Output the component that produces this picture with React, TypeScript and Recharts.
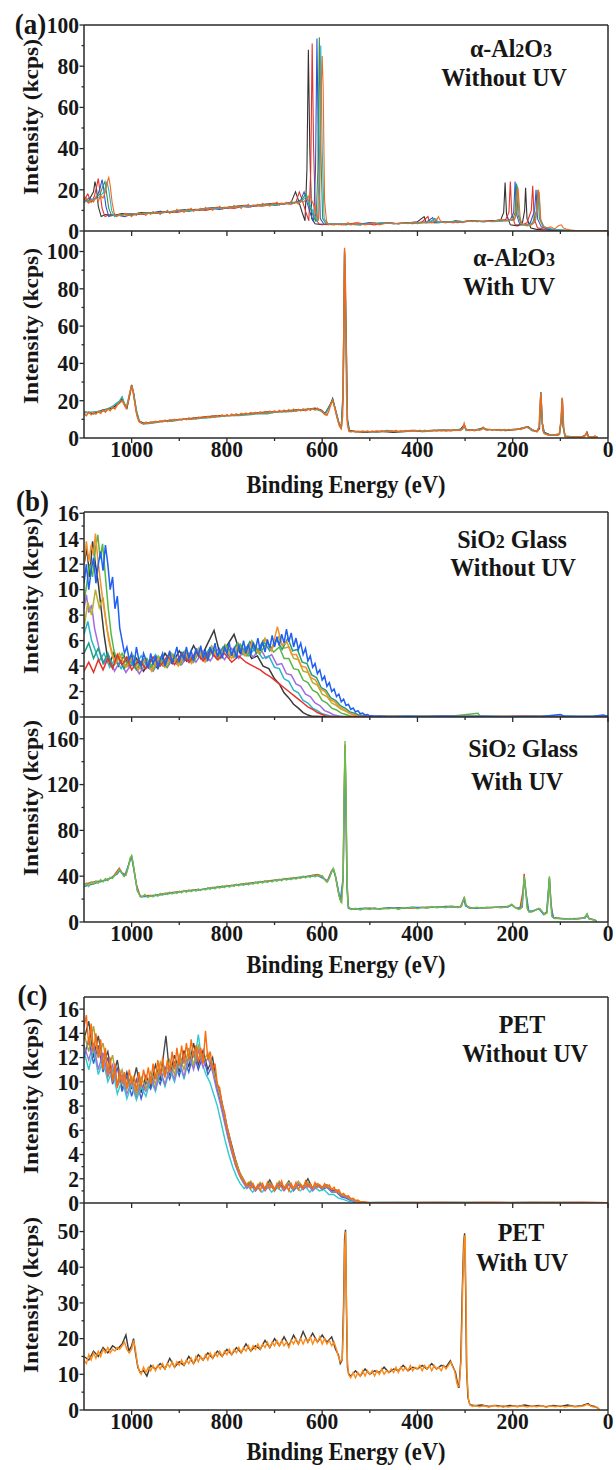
import React from "react";
import { LineChart, Line, XAxis, YAxis, ReferenceLine } from "recharts";

const FONT = "'Liberation Serif', 'Times New Roman', Times, serif";
const INK = "#161616";
const AXIS = "#2a2a2a";

// shared binding energy ticks (eV), axis runs 1100 -> 0
const energyTicks = [0, 100, 200, 300, 400, 500, 600, 700, 800, 900, 1000];
const ticksA = [0, 10, 20, 30, 40, 50, 60, 70, 80, 90, 100];
const ticksB1 = [0, 1, 2, 3, 4, 5, 6, 7, 8, 9, 10, 11, 12, 13, 14, 15, 16];
const ticksB2 = [0, 20, 40, 60, 80, 100, 120, 140, 160];
const ticksC1 = ticksB1;
const ticksC2 = [0, 5, 10, 15, 20, 25, 30, 35, 40, 45, 50];

// ---- (a) alpha-Al2O3 without UV : [eV, kcps, eV, kcps, ...]
const a1Black = [1100,16, 1092,14, 1085,17, 1080,19, 1077,24, 1074,21, 1070,12, 1064,7, 1055,8, 1040,7.5, 1020,8.5, 1000,8, 980,9, 960,8.5, 940,9.5, 920,9, 900,10, 880,10.5, 860,10, 840,11, 820,11.5, 800,11, 780,12, 760,12.5, 740,12, 720,13, 700,13.5, 680,13, 665,14, 656,19, 650,15, 642,9, 636,5, 632,30, 629,88, 626,40, 622,6, 615,3.5, 600,3, 580,3.5, 560,3, 540,3.5, 520,3, 500,4, 480,3.5, 460,4, 440,3.5, 420,4, 400,4.5, 386,7, 382,4, 360,4.5, 340,4, 320,5, 300,4.5, 280,5, 260,4.5, 240,5, 225,5.5, 219,9, 216,23.5, 213,8, 205,3, 190,2.5, 180,3.5, 175,10, 173,21, 170,6, 162,1.5, 150,0.8, 130,0.5, 110,0.3, 80,0.1, 40,0, 0,0];
const a1Red = [1100,15, 1092,18, 1085,14, 1078,17, 1073,22, 1070,25.5, 1067,20, 1062,11, 1056,7, 1045,8, 1025,7.5, 1005,8.5, 985,8, 965,9, 945,8.5, 925,9.5, 905,9, 885,10, 865,10.5, 845,10, 825,11, 805,11.5, 785,11, 765,12, 745,12.5, 725,12, 705,13, 685,13.5, 665,13, 655,14, 648,19, 642,15, 634,9, 628,5, 624,30, 621,91, 618,40, 614,6, 607,3.5, 590,3, 570,3.5, 550,3, 530,4, 510,3.5, 490,3, 470,4, 450,3.5, 430,4, 410,3.5, 390,4.5, 378,7, 374,4, 355,4, 335,4.5, 315,4, 295,5, 275,4.5, 255,5, 235,5, 215,5.5, 208,9, 205,24, 202,8, 195,3, 180,3, 170,4, 161,10, 158,22, 155,6, 148,1.5, 135,1, 115,0.5, 90,0.3, 60,0.1, 30,0, 0,0];
const a1Blue = [1100,14, 1090,16, 1080,15, 1072,17, 1066,21, 1062,25, 1059,21, 1054,12, 1048,7, 1035,8, 1015,7, 995,8.5, 975,8, 955,9, 935,9.5, 915,9, 895,10, 875,10, 855,10.5, 835,11, 815,10.5, 795,11.5, 775,12, 755,11.5, 735,12.5, 715,13, 695,12.5, 675,13.5, 655,14, 645,15, 638,19, 632,14, 624,8, 618,4.5, 614,30, 611,93.5, 608,40, 604,6, 597,3.5, 580,3, 560,3.5, 540,3, 520,3.5, 500,4, 480,3.5, 460,4, 440,3.5, 420,4, 400,4, 380,4.5, 368,6.5, 364,4, 345,4.5, 325,4, 305,4.5, 285,5, 265,4.5, 245,5, 225,5, 205,5.5, 198,9, 195,24, 192,8, 185,3, 170,3, 163,4, 154,10, 151,20, 148,6, 140,2, 128,1, 110,0.5, 85,0.3, 60,0.1, 30,0, 0,0];
const a1Green = [1100,15, 1088,14, 1076,16, 1066,18, 1060,22, 1056,24, 1053,19, 1048,11, 1042,7.5, 1020,8, 1000,7.5, 980,8.5, 960,9, 940,8.5, 920,9.5, 900,10, 880,9.5, 860,10.5, 840,11, 820,11, 800,11.5, 780,12, 760,12, 740,12.5, 720,13, 700,12.5, 680,13.5, 660,13.5, 645,14.5, 634,18, 628,13, 620,8, 613,4.5, 609,30, 606,94, 603,40, 599,6, 592,3.5, 575,3, 550,3.5, 525,3, 500,3.5, 475,4, 450,3.5, 425,4, 400,4, 375,4, 364,6, 360,4, 335,4.5, 310,4.5, 285,5, 260,4.5, 235,5, 210,5, 200,5.5, 195,9, 192,23, 189,8, 182,3, 165,3, 158,4, 150,10, 147,20, 144,6, 136,2, 120,1, 100,0.5, 70,0.2, 40,0, 0,0];
const a1Cyan = [1100,14, 1085,15, 1070,16, 1058,19, 1052,24, 1048,20, 1042,10, 1036,7, 1015,8, 990,8.5, 965,8.5, 940,9, 915,9.5, 890,10, 865,10, 840,11, 815,11, 790,11.5, 765,12, 740,12.5, 715,12.5, 690,13, 665,13.5, 645,14, 632,17, 626,13, 617,8, 610,4.5, 606,30, 603,90, 600,40, 596,6, 589,3.5, 560,3.5, 530,3, 500,3.5, 470,4, 440,3.5, 410,4, 380,4, 361,6, 357,4, 330,4.5, 300,4.5, 270,5, 240,4.5, 210,5, 196,5.5, 193,9, 190,22, 187,8, 180,3, 162,3, 155,4, 148,10, 145,19, 142,6, 134,2, 118,1, 95,0.4, 60,0.1, 30,0, 0,0];
const a1Orange = [1100,14, 1095,16, 1090,13.5, 1085,15, 1080,14, 1075,16.5, 1070,14.5, 1065,17, 1060,16, 1055,19, 1051,24, 1048,26, 1045,22, 1041,14, 1037,9, 1032,7, 1026,8, 1020,7, 1015,8.5, 1010,7.5, 1005,8, 1000,7, 995,8.5, 990,7.5, 985,9, 980,8, 975,8.5, 970,7.5, 965,9, 960,8, 955,9.5, 950,8.5, 945,9, 940,8, 935,9.5, 930,9, 925,10, 920,8.5, 915,9.5, 910,9, 905,10.5, 900,9.5, 895,10, 890,9, 885,10.5, 880,10, 875,11, 870,9.5, 865,10.5, 860,10, 855,11, 850,10, 845,11.5, 840,10.5, 835,11, 830,10, 825,11.5, 820,11, 815,12, 810,10.5, 805,11.5, 800,11, 795,12, 790,11, 785,12.5, 780,11.5, 775,12, 770,11, 765,12.5, 760,12, 755,13, 750,11.5, 745,12.5, 740,12, 735,13, 730,12, 725,13.5, 720,12.5, 715,13, 710,12, 705,13.5, 700,13, 695,14, 690,12.5, 685,13.5, 680,13, 675,14, 670,13, 665,14.5, 660,13.5, 655,14, 650,13, 645,14.5, 640,14, 635,15, 630,16, 626,18, 622,15, 617,12, 612,8, 608,5, 605,20, 602,70, 600,85, 598,70, 595,15, 591,5, 587,3, 580,3.5, 575,3, 570,3.5, 565,3, 560,3.5, 555,3, 550,3.5, 545,4, 540,3, 535,3.5, 530,3, 525,4, 520,3.5, 510,3, 500,3.5, 490,4, 480,3, 470,3.5, 460,4, 450,3.5, 440,3.5, 430,4, 420,3.5, 410,4, 400,3.5, 390,4, 380,4.5, 370,4, 360,5, 356,7, 352,5, 345,4, 335,4.5, 325,4, 315,4.5, 305,4, 295,5, 285,4.5, 275,5, 265,4.5, 255,5, 245,4.5, 235,5, 225,5.5, 215,5, 205,5.5, 198,5, 194,7, 191,18, 189,21, 187,15, 184,5, 178,3, 170,2.5, 160,3, 152,5, 148,14, 146,20, 144,17, 141,5, 136,2, 128,1.5, 120,2, 112,1, 104,2.5, 98,3, 94,1.5, 88,1, 80,0.5, 70,0.3, 55,0.2, 40,0.1, 20,0.1, 0,0];

// ---- (a) alpha-Al2O3 with UV
const a2Black = [1100,14, 1080,13, 1060,15, 1040,16, 1025,19, 1020,21, 1015,18, 1010,16, 1004,23, 1000,28.5, 996,24, 990,14, 984,9, 975,8, 955,8.5, 935,9, 915,9.5, 895,10, 875,10.5, 855,11, 835,11.5, 815,12, 795,12, 775,12.5, 755,13, 735,13.5, 715,14, 695,14, 675,14.5, 655,15, 635,15, 615,16, 602,15, 594,13, 582,18.5, 578,21, 573,16, 566,9, 560,5, 556,25, 553,100, 550,60, 547,10, 543,4, 530,3.5, 510,3, 490,3.5, 470,3.5, 450,3, 430,3.5, 410,4, 390,3.5, 370,4, 350,4, 330,4, 310,4.5, 302,7, 298,4.5, 280,4, 262,5.5, 255,4.5, 235,4.5, 215,4, 195,4.5, 175,5.5, 168,6, 160,4.5, 150,3.5, 144,5, 141,24.5, 138,8, 134,3, 120,1.5, 102,2, 98,10, 96,21, 94,6, 90,1, 75,0.5, 55,0.6, 47,1.5, 44,3, 41,0.8, 30,0.6, 22,0.4];
const a2Teal = [1100,13.5, 1080,14, 1060,14.5, 1040,17, 1025,20, 1020,22, 1016,19, 1011,16.5, 1004,24, 1000,28, 996,24, 990,15, 984,9, 975,7.5, 955,8, 935,9, 915,9, 895,10, 875,10, 855,10.5, 835,11, 815,11.5, 795,12, 775,12, 755,12.5, 735,13, 715,13, 695,14, 675,14, 655,14.5, 635,15.5, 615,15.5, 602,14.5, 594,12.5, 582,18, 578,20.5, 573,16, 566,9, 560,5, 556,22, 553,98, 550,55, 547,9, 543,3.5, 525,3.5, 505,3.5, 485,3, 465,4, 445,3.5, 425,3.5, 405,4, 385,3.5, 365,4, 345,4.5, 325,4, 305,5, 302,7, 298,4, 278,4.5, 262,5, 245,4.5, 225,4, 205,4.5, 185,5, 170,6, 160,4, 150,3.5, 144,6, 141,24.5, 138,8, 134,2.5, 118,1.5, 102,2, 98,10, 96,21.5, 94,6, 90,1, 70,0.5, 50,0.7, 45,2.5, 41,0.8, 30,0.6, 22,0.4];
const a2Orange = [1100,13, 1095,12, 1090,14, 1085,12.5, 1080,13.5, 1075,12.8, 1070,14.2, 1065,13.2, 1060,15, 1055,13.8, 1050,15.4, 1045,14.6, 1040,16.4, 1035,15.6, 1030,17.8, 1025,18.8, 1020,20, 1016,18, 1012,16, 1008,18.5, 1004,24, 1000,28, 997,25, 993,18, 989,12, 985,9, 980,8, 975,7.5, 970,8.5, 965,7.8, 960,8.6, 955,8.2, 950,9, 945,8.4, 940,9.2, 935,8.6, 930,9.6, 925,8.8, 920,9.8, 915,9.2, 910,10, 905,9.4, 900,10.2, 895,9.6, 890,10.4, 885,9.8, 880,10.8, 875,10, 870,11, 865,10.2, 860,11.2, 855,10.6, 850,11.4, 845,10.8, 840,11.6, 835,11, 830,12, 825,11.2, 820,12, 815,11.4, 810,12.4, 805,11.6, 800,12.6, 795,11.8, 790,12.8, 785,12, 780,13, 775,12.2, 770,13.2, 765,12.4, 760,13.4, 755,12.8, 750,13.6, 745,12.8, 740,13.8, 735,13, 730,14, 725,13.2, 720,14.2, 715,13.4, 710,14.4, 705,13.6, 700,14.6, 695,13.8, 690,14.8, 685,14, 680,15, 675,14.2, 670,15.2, 665,14.2, 660,15.4, 655,14.4, 650,15.4, 645,14.6, 640,15.6, 635,14.6, 630,15.8, 625,14.8, 620,15.8, 615,15, 610,16, 605,15, 600,14.2, 595,12.8, 590,12.2, 586,14.5, 582,18, 578,20, 574,16.5, 569,11, 564,6.5, 560,5, 557,12, 555,50, 553,102, 551,80, 549,25, 547,7, 544,3.8, 540,3.4, 535,3.8, 530,3.2, 525,3.6, 520,3.1, 515,3.7, 510,3.2, 505,3.8, 500,3.3, 495,3.7, 490,3.2, 485,3.8, 480,3.4, 475,3.9, 470,3.3, 465,3.8, 460,3.4, 455,3.9, 450,3.5, 445,4, 440,3.4, 435,3.9, 430,3.5, 425,4, 420,3.6, 415,4.1, 410,3.6, 405,4, 400,3.7, 395,4.1, 390,3.6, 385,4.2, 380,3.7, 375,4.1, 370,3.8, 365,4.2, 360,3.8, 355,4.3, 350,3.9, 345,4.2, 340,3.8, 335,4.3, 330,3.9, 325,4.4, 320,4, 315,4.3, 310,4, 305,4.8, 302,7.8, 299,5, 295,4.2, 290,4, 285,4.4, 280,4, 275,4.5, 270,4.1, 265,4.6, 262,5.8, 258,4.5, 253,4.2, 248,4.6, 243,4.1, 238,4.6, 233,4.1, 228,4.5, 223,4.1, 218,4.6, 213,4.2, 208,4.6, 203,4.2, 198,4.6, 193,4.4, 188,4.8, 183,4.6, 178,5.2, 173,5.8, 168,5.6, 163,5, 158,4.2, 153,3.6, 148,3.4, 145,6, 143,15, 141,24, 139,14, 137,4, 134,2.5, 130,2, 125,1.5, 120,1.8, 115,1.4, 110,1.6, 105,1.5, 102,2.5, 99,9, 97,18, 96,21.5, 94,10, 92,3, 90,0.8, 86,0.5, 80,0.6, 75,0.4, 70,0.6, 65,0.5, 60,0.6, 55,0.5, 50,0.8, 47,1.8, 45,3, 43,1.5, 40,0.6, 35,0.5, 30,0.7, 27,1.1, 25,0.6, 22,0.3];

// ---- (b) SiO2 glass without UV
const b1Red = [1100,3.6, 1090,4.3, 1080,3.5, 1070,4.5, 1060,3.7, 1050,4.6, 1040,3.8, 1030,4.9, 1020,4.1, 1010,4.7, 1000,3.7, 985,4.5, 970,3.8, 955,4.7, 940,4, 925,4.8, 910,4.1, 895,5, 880,4.3, 865,5.1, 850,4.4, 835,5.2, 820,4.5, 805,5, 790,4.3, 775,4.8, 760,4.3, 750,4.1, 740,3.9, 730,3.7, 720,3.4, 710,3.2, 700,2.9, 690,2.6, 680,2.3, 670,2.0, 660,1.7, 650,1.4, 640,1.1, 630,0.8, 620,0.6, 610,0.35, 600,0.2, 590,0.05, 560,0.02, 500,0.05, 420,0.02, 340,0.04, 260,0.02, 180,0.05, 100,0.02, 0,0.03];
const b1Dark = [1100,12, 1094,13.2, 1088,11, 1082,13.8, 1076,12, 1070,10.5, 1064,8.5, 1058,6.5, 1052,5, 1046,4.2, 1038,5, 1028,4, 1016,4.8, 1004,3.9, 990,4.6, 975,3.6, 960,4.5, 945,3.8, 930,5, 915,4.2, 900,5.2, 885,4.4, 870,5.6, 855,4.6, 840,5.8, 827,6.8, 815,5, 800,5.6, 785,6.5, 772,5, 760,5.4, 748,4.6, 736,4.8, 724,4, 712,3.8, 700,3, 690,2.6, 680,1.9, 670,1.5, 660,1.0, 650,0.7, 640,0.35, 630,0.15, 620,0.05, 580,0.02, 520,0.04, 440,0.02, 360,0.05, 280,0.02, 200,0.04, 120,0.02, 0,0.03];
const b1Cyan = [1100,6.5, 1092,7.5, 1084,6, 1076,5.2, 1068,4.4, 1058,5, 1046,3.9, 1034,4.6, 1022,3.8, 1010,4.7, 995,3.9, 980,4.8, 965,4, 950,4.9, 935,4.1, 920,5, 905,4.2, 890,5.1, 875,4.3, 860,5.3, 845,4.5, 830,5.4, 815,4.6, 800,5.5, 785,4.7, 770,5.6, 755,4.8, 740,5.4, 725,4.6, 712,4.8, 700,3.9, 690,3.8, 680,3, 670,2.8, 660,2.1, 650,1.9, 640,1.3, 630,1.1, 620,0.7, 610,0.5, 600,0.25, 590,0.15, 580,0.05, 540,0.02, 480,0.05, 400,0.02, 320,0.06, 240,0.02, 160,0.04, 80,0.02, 0,0.03];
const b1Purple = [1100,8.5, 1095,9.6, 1090,8.2, 1084,8.8, 1078,7, 1072,6, 1066,5, 1058,4.2, 1048,4.8, 1036,3.6, 1024,4.4, 1012,3.5, 998,4.3, 984,3.4, 970,4.2, 955,3.6, 940,4.6, 925,3.9, 910,4.8, 895,4.1, 880,5, 865,4.3, 850,5.2, 835,4.4, 820,5.3, 805,4.5, 790,5.4, 775,4.6, 760,5.5, 745,4.7, 730,5.4, 718,4.6, 706,4.9, 695,4.1, 685,4.2, 675,3.4, 665,3.3, 655,2.6, 645,2.4, 635,1.8, 625,1.6, 615,1.1, 605,0.9, 595,0.5, 585,0.35, 575,0.15, 565,0.08, 555,0.02, 500,0.04, 420,0.02, 340,0.05, 260,0.02, 180,0.04, 100,0.02, 0,0.03];
const b1Green = [1100,9, 1094,10.5, 1088,12, 1082,11, 1076,13.2, 1071,14.3, 1066,12.4, 1061,13.6, 1055,11, 1049,8.5, 1043,6.5, 1037,5.2, 1030,4.4, 1020,5, 1008,4, 996,4.8, 982,3.8, 968,4.6, 954,3.7, 940,4.7, 926,3.9, 912,4.9, 898,4.1, 884,5.1, 870,4.3, 856,5.3, 842,4.4, 828,5.4, 814,4.6, 800,5.6, 786,4.7, 772,5.7, 758,4.8, 744,5.8, 730,5, 716,5.9, 702,5.1, 690,5.5, 680,4.6, 670,4.6, 660,3.8, 650,3.7, 640,2.9, 630,2.7, 620,2.1, 610,1.9, 600,1.3, 590,1.1, 580,0.7, 570,0.55, 560,0.3, 550,0.2, 540,0.06, 530,0.02, 470,0.04, 400,0.02, 330,0.05, 273,0.3, 268,0.04, 200,0.03, 120,0.04, 60,0.02, 0,0.05];
const b1Orange = [1100,12, 1095,13.8, 1090,12.2, 1085,13.5, 1080,12.8, 1076,14.4, 1071,12.4, 1066,10.8, 1060,9, 1054,7.5, 1048,6, 1042,5, 1034,4.2, 1024,4.8, 1012,3.9, 1000,4.6, 986,3.7, 972,4.5, 958,3.6, 944,4.6, 930,3.9, 916,4.8, 902,4, 888,5, 874,4.2, 860,5.2, 846,4.3, 832,5.3, 818,4.5, 804,5.5, 790,4.6, 776,5.6, 762,4.8, 748,5.8, 734,5, 720,6.1, 706,5.2, 694,7.1, 684,5.6, 674,5.9, 664,4.9, 654,4.9, 644,4, 634,3.9, 624,3.1, 614,2.9, 604,2.2, 594,2, 584,1.4, 574,1.2, 564,0.8, 554,0.6, 544,0.3, 534,0.2, 524,0.05, 510,0.02, 440,0.04, 360,0.02, 280,0.05, 200,0.02, 120,0.04, 40,0.02, 0,0.03];
const b1Olive = [1100,7, 1092,9, 1084,8, 1076,10, 1068,8.6, 1060,9.4, 1052,7, 1044,5.5, 1036,4.4, 1026,5, 1014,4, 1000,4.7, 986,3.8, 972,4.6, 958,3.9, 944,4.8, 930,4, 916,5, 902,4.2, 888,5.2, 874,4.4, 860,5.4, 846,4.6, 832,5.6, 818,4.7, 804,5.7, 790,4.9, 776,5.8, 762,5, 748,6, 734,5.1, 720,6.2, 706,5.3, 692,6.3, 680,5.4, 670,5.5, 660,4.6, 650,4.5, 640,3.6, 630,3.5, 620,2.7, 610,2.5, 600,1.8, 590,1.6, 580,1.1, 570,0.9, 560,0.6, 550,0.45, 540,0.25, 530,0.15, 520,0.05, 505,0.02, 430,0.04, 350,0.02, 270,0.05, 190,0.02, 110,0.04, 30,0.02, 0,0.03];
const b1Teal = [1100,5, 1090,5.8, 1080,4.6, 1070,5.4, 1060,4.2, 1050,5, 1040,3.9, 1028,4.7, 1016,3.8, 1004,4.6, 990,3.7, 976,4.5, 962,3.8, 948,4.7, 934,4, 920,4.9, 906,4.2, 892,5.1, 878,4.3, 864,5.2, 850,4.5, 836,5.4, 822,4.6, 808,5.5, 794,4.7, 780,5.7, 766,4.9, 752,5.9, 738,5, 724,6, 710,5.2, 696,6.1, 684,5.3, 672,6.2, 662,5.2, 652,5.3, 642,4.3, 632,4.2, 622,3.3, 612,3.1, 602,2.3, 592,2.1, 582,1.5, 572,1.3, 562,0.9, 552,0.7, 542,0.4, 532,0.3, 522,0.15, 512,0.08, 502,0.02, 420,0.05, 340,0.02, 260,0.04, 180,0.02, 100,0.05, 20,0.02, 0,0.03];
const b1Blue = [1100,10.5, 1095,12, 1090,10, 1085,11.5, 1080,12.5, 1075,10.5, 1070,12, 1065,13, 1060,11.5, 1055,13.5, 1050,12, 1045,10, 1040,11, 1035,8.5, 1030,9.5, 1025,7, 1020,6, 1015,5, 1010,5.5, 1005,4.5, 1000,5, 995,4, 990,5.5, 985,4.5, 980,4, 975,5, 970,4.5, 965,3.8, 960,5, 955,4.2, 950,4.8, 945,3.8, 940,4.5, 935,5, 930,4, 925,4.6, 920,5.2, 915,4.2, 910,4.8, 905,5.5, 900,4.3, 895,5, 890,4.5, 885,5.5, 880,4.6, 875,5.2, 870,4.4, 865,5.4, 860,4.8, 855,5.6, 850,4.6, 845,5.2, 840,4.4, 835,5.5, 830,4.9, 825,5.8, 820,4.7, 815,5.3, 810,4.6, 805,5.5, 800,5, 795,5.8, 790,4.8, 785,5.4, 780,4.6, 775,5.6, 770,5.1, 765,6, 760,5, 755,5.7, 750,4.9, 745,5.8, 740,5.3, 735,6.2, 730,5.2, 725,5.9, 720,5.1, 715,6.1, 710,5.4, 705,6.4, 700,5.5, 695,6.3, 690,5.6, 685,6.5, 680,5.8, 675,6.9, 670,5.9, 665,6.6, 660,5.5, 655,6.2, 650,5.3, 645,5.8, 640,4.9, 635,5.4, 630,4.4, 625,4.8, 620,3.9, 615,4.2, 610,3.4, 605,3.7, 600,2.9, 595,3.2, 590,2.4, 585,2.7, 580,2.0, 575,2.2, 570,1.6, 565,1.8, 560,1.2, 555,1.4, 550,0.9, 545,1.0, 540,0.6, 535,0.7, 530,0.4, 525,0.5, 520,0.25, 515,0.3, 510,0.15, 505,0.2, 500,0.08, 495,0.1, 490,0.03, 480,0.05, 460,0.02, 420,0.05, 380,0.02, 340,0.06, 300,0.03, 260,0.05, 220,0.02, 180,0.04, 140,0.03, 100,0.2, 90,0.05, 60,0.03, 30,0.05, 10,0.15, 0,0.05];

// ---- (b) SiO2 glass with UV
const b2Red = [1100,33, 1080,35, 1060,36, 1040,39, 1026,47, 1020,43, 1012,41, 1003,55, 1000,57, 996,48, 990,33, 982,22, 970,23, 950,23.5, 930,25, 910,26, 890,27, 870,28, 850,28.5, 830,30, 810,31, 790,32, 770,33, 750,34, 730,35, 710,36, 690,37, 670,38, 650,39, 630,40, 610,41.5, 600,40, 590,35, 580,45, 577,46, 572,40, 566,26, 560,17, 556,38, 554,105, 552,155, 550,105, 548,35, 545,13, 540,11, 520,11.5, 500,12, 480,11.5, 460,12, 440,12.5, 420,12, 400,12.5, 380,13, 360,13, 340,13.5, 320,13, 308,13.5, 302,21, 298,14, 290,12, 270,12.5, 250,12.5, 230,13, 210,13.5, 202,15, 195,12.5, 185,11.5, 178,28, 176,42, 173,28, 168,10, 160,9, 150,11, 143,11.5, 135,7, 128,9, 123,38, 120,18, 116,4, 100,3, 80,2.8, 60,3, 48,4, 44,6.5, 40,3, 30,2, 24,0.8];
const b2Blue = [1100,31, 1075,34, 1050,37, 1030,42, 1025,45, 1015,40, 1003,54, 1000,57, 995,45, 988,27, 980,22, 960,22.5, 935,24, 910,25.5, 885,27, 860,28, 835,29.5, 810,30.5, 785,32, 760,33, 735,34.5, 710,35.5, 685,37, 660,38, 635,39.5, 610,40.5, 598,38, 588,36, 580,44, 576,46, 570,36, 562,19, 556,39, 554,100, 552,150, 550,100, 548,30, 545,12, 535,11.5, 510,12, 485,11.5, 460,12.5, 435,12, 410,13, 385,12.5, 360,13, 335,13.5, 310,13, 303,20, 299,14, 285,12, 260,12.5, 235,13, 210,13, 202,15, 192,12, 180,13, 176,39, 172,25, 166,9, 155,10, 145,11.5, 135,6.5, 129,8, 123,39, 119,12, 114,3.5, 90,2.8, 65,2.8, 48,3.5, 44,6.8, 40,3, 28,1.8, 24,0.6];
const b2Green = [1100,32, 1095,34, 1090,31, 1085,35, 1080,33, 1075,36, 1070,34, 1065,37, 1060,35, 1055,38, 1050,36, 1045,39, 1040,38, 1035,41, 1030,43, 1026,46, 1022,44, 1017,40, 1012,41, 1007,48, 1003,56, 1000,58, 997,52, 993,40, 988,28, 983,23, 978,22, 972,24, 966,21.5, 960,23, 955,22, 950,24, 945,22.5, 940,25, 935,23.5, 930,25, 925,24, 920,26, 915,24.5, 910,26, 905,25, 900,27, 895,25.5, 890,27.5, 885,26, 880,28, 875,26.5, 870,28, 865,27, 860,29, 855,27.5, 850,29, 845,28, 840,30, 835,28.5, 830,30.5, 825,29, 820,31, 815,29.5, 810,31.5, 805,30, 800,32, 795,30.5, 790,32, 785,31, 780,33, 775,31.5, 770,33.5, 765,32, 760,34, 755,32.5, 750,34, 745,33, 740,35, 735,33.5, 730,35.5, 725,34, 720,36, 715,34.5, 710,36, 705,35, 700,37, 695,35.5, 690,37.5, 685,36, 680,38, 675,36.5, 670,38, 665,37, 660,39, 655,37.5, 650,39, 645,38, 640,40, 635,38.5, 630,40, 625,39, 620,41, 615,39.5, 610,41, 605,40, 600,40.5, 595,37, 590,35, 585,38, 580,44, 577,47, 573,42, 568,30, 563,20, 559,17, 556,40, 554,110, 552,158, 550,110, 548,40, 546,15, 543,12, 538,11, 530,12, 520,10.5, 510,12, 500,11, 490,12.5, 480,11, 470,12, 460,11.5, 450,12.5, 440,11, 430,12.5, 420,12, 410,13, 400,11.5, 390,13, 380,12, 370,13.5, 360,12.5, 350,13, 340,12.5, 330,14, 322,13.5, 315,12.5, 308,14, 304,19, 301,21, 298,15, 292,12.5, 285,12, 275,13, 265,12, 255,13, 245,12.5, 235,13, 225,12.5, 215,13, 208,14, 202,15.5, 196,13, 188,11, 182,12, 178,25, 176,40, 173,30, 170,12, 165,8.5, 158,9, 150,11, 145,12, 140,10, 133,6.5, 128,8, 125,25, 123,40, 121,22, 118,5, 112,3, 100,3, 90,2.5, 80,3, 70,2.5, 60,3, 50,3.5, 46,6, 44,7, 42,4, 38,2.5, 32,2, 27,1.5, 24,0.5];

// ---- (c) PET without UV
const c1Dark = [1100,13.5, 1090,15, 1080,12, 1070,13.8, 1060,11.5, 1050,12.5, 1040,10.2, 1030,11.8, 1020,9.3, 1010,10.8, 1000,9.4, 990,11.2, 980,9.1, 970,10.5, 960,9.6, 950,11.4, 940,10.1, 928,13.8, 920,10.5, 910,12.2, 900,10.8, 890,12.6, 880,11.2, 870,13.2, 860,11.4, 850,12.6, 840,11, 830,12, 822,10, 814,9, 806,7.5, 798,6, 790,4.8, 782,3.6, 774,2.6, 766,2, 758,1.4, 750,1.7, 740,1.1, 730,1.6, 720,1.2, 710,1.9, 700,1.1, 690,1.7, 680,1.2, 670,1.8, 660,1.1, 650,1.6, 640,1.3, 630,2.0, 620,1.2, 610,1.6, 600,1.3, 590,1.5, 580,1.0, 570,1.1, 560,0.6, 550,0.5, 540,0.3, 530,0.2, 520,0.08, 505,0.03, 460,0.02, 380,0.05, 300,0.02, 220,0.04, 140,0.02, 60,0.05, 0,0.02];
const c1Blue = [1100,12, 1090,13.5, 1080,11.5, 1070,13, 1060,10.8, 1050,12, 1040,9.8, 1030,11.2, 1020,9.2, 1010,10.5, 1000,8.8, 990,10.2, 980,8.6, 970,10, 960,9.4, 950,10.6, 940,9.8, 930,11.2, 920,10.2, 910,11.6, 900,10.5, 890,12, 880,10.8, 870,12.4, 860,11, 850,12.2, 840,10.6, 830,11.4, 822,9.6, 814,8.4, 806,7, 798,5.6, 790,4.3, 782,3.2, 774,2.4, 766,1.8, 758,1.3, 750,1.5, 740,1.0, 730,1.5, 720,1.1, 710,1.6, 700,1.0, 690,1.5, 680,1.1, 670,1.6, 660,1.0, 650,1.5, 640,1.2, 630,1.6, 620,1.1, 610,1.5, 600,1.1, 590,1.3, 580,0.9, 570,0.9, 560,0.5, 550,0.4, 540,0.2, 530,0.1, 520,0.03, 480,0.05, 400,0.02, 320,0.04, 240,0.02, 160,0.05, 80,0.02, 0,0.03];
const c1Cyan = [1100,12.5, 1090,11, 1080,12.8, 1070,10.6, 1060,11.8, 1050,10, 1040,11, 1030,9, 1020,10.2, 1010,8.6, 1000,9.8, 990,8.5, 980,9.6, 970,8.8, 960,10.2, 950,9.2, 940,10.8, 930,9.6, 920,11, 910,10, 900,11.6, 890,10.2, 880,12, 870,11.2, 860,13.9, 852,11.5, 844,10.6, 836,10, 828,9, 820,8, 812,6.6, 804,5.2, 796,4, 788,3, 780,2.2, 772,1.6, 764,1.2, 756,1.4, 746,0.9, 736,1.3, 726,0.9, 716,1.4, 706,0.9, 696,1.3, 686,1.0, 676,1.4, 666,0.9, 656,1.3, 646,1.0, 636,1.4, 626,0.9, 616,1.3, 606,1.0, 596,1.1, 586,0.7, 576,0.7, 566,0.4, 556,0.3, 546,0.15, 536,0.07, 526,0.02, 470,0.04, 390,0.02, 310,0.05, 230,0.02, 150,0.04, 70,0.02, 0,0.03];
const c1Purple = [1100,13, 1090,11.8, 1080,13.2, 1070,11, 1060,12.4, 1050,10.4, 1040,11.4, 1030,9.6, 1020,10.6, 1010,9, 1000,10, 990,8.8, 980,9.8, 970,9.2, 960,10.4, 950,9.4, 940,11, 930,9.8, 920,11.2, 910,10.2, 900,11.8, 890,10.4, 880,12.2, 870,11, 860,12.6, 850,11.2, 840,12, 830,10.8, 822,9.4, 814,8.2, 806,6.8, 798,5.4, 790,4.2, 782,3.1, 774,2.3, 766,1.7, 758,1.2, 750,1.6, 740,1.0, 730,1.5, 720,1.0, 710,1.5, 700,1.1, 690,1.6, 680,1.0, 670,1.5, 660,1.1, 650,1.6, 640,1.1, 630,1.5, 620,1.0, 610,1.4, 600,1.2, 590,1.4, 580,0.9, 570,1.0, 560,0.6, 550,0.5, 540,0.25, 530,0.12, 520,0.04, 480,0.02, 400,0.05, 320,0.02, 240,0.04, 160,0.02, 80,0.05, 0,0.02];
const c1Olive = [1100,14, 1090,12.5, 1080,14.6, 1070,12, 1060,13.2, 1050,11, 1040,12.2, 1030,9.8, 1020,11, 1010,9.4, 1000,10.4, 990,9, 980,10.4, 970,9.4, 960,10.8, 950,9.8, 940,11.6, 930,10.4, 920,11.8, 910,10.6, 900,12.2, 890,11, 880,12.8, 870,11.4, 860,13, 850,11.6, 840,12.4, 830,11.2, 822,10, 814,8.8, 806,7.4, 798,6, 790,4.6, 782,3.5, 774,2.6, 766,2, 758,1.5, 750,1.8, 740,1.2, 730,1.7, 720,1.2, 710,1.7, 700,1.2, 690,1.8, 680,1.3, 670,1.7, 660,1.2, 650,1.8, 640,1.3, 630,1.7, 620,1.2, 610,1.6, 600,1.3, 590,1.5, 580,1.1, 570,1.1, 560,0.7, 550,0.6, 540,0.35, 530,0.2, 520,0.08, 505,0.02, 440,0.04, 360,0.02, 280,0.05, 200,0.02, 120,0.04, 40,0.02, 0,0.03];
const c1Orange = [1100,14.5, 1095,15.5, 1090,13, 1085,14.8, 1080,12.5, 1075,14, 1070,12, 1065,13.5, 1060,11, 1055,12.8, 1050,10.5, 1045,12, 1040,10, 1035,11.5, 1030,9.5, 1025,11, 1020,9.8, 1015,10.8, 1010,9.5, 1005,11, 1000,9.8, 995,10.5, 990,9.2, 985,10.8, 980,9.6, 975,11, 970,10, 965,11.2, 960,9.8, 955,11.5, 950,10.2, 945,11.8, 940,10.5, 935,12, 930,10.4, 925,11.8, 920,10.8, 915,12.5, 910,11, 905,12.8, 900,11.3, 895,13, 890,11.5, 885,13.2, 880,11.8, 875,13.5, 870,12, 865,13, 860,11.6, 855,12.8, 850,11.5, 845,14.2, 840,11.8, 835,12.5, 830,11, 825,11.5, 820,9.8, 815,9.5, 810,8, 805,7.5, 800,6.2, 795,5.5, 790,4.5, 785,3.8, 780,3, 775,2.6, 770,2, 765,1.9, 760,1.4, 755,1.7, 750,1.2, 745,1.6, 740,1.1, 735,1.5, 730,1.0, 725,1.6, 720,1.1, 715,1.7, 710,1.2, 705,1.5, 700,1.0, 695,1.6, 690,1.2, 685,1.8, 680,1.1, 675,1.5, 670,1.0, 665,1.6, 660,1.2, 655,1.7, 650,1.1, 645,1.5, 640,1.2, 635,1.8, 630,1.3, 625,1.6, 620,1.2, 615,1.7, 610,1.3, 605,1.5, 600,1.2, 595,1.6, 590,1.3, 585,1.5, 580,1.1, 575,1.3, 570,0.9, 565,1.1, 560,0.7, 555,0.8, 550,0.5, 545,0.6, 540,0.35, 535,0.4, 530,0.2, 525,0.25, 520,0.1, 510,0.08, 500,0.03, 490,0.02, 450,0.03, 400,0.02, 350,0.05, 300,0.02, 250,0.04, 200,0.03, 150,0.05, 100,0.02, 50,0.04, 0,0.03];

// ---- (c) PET with UV
const c2Dark = [1100,15, 1090,14, 1080,16.5, 1070,15, 1060,17.5, 1050,16, 1040,18, 1030,17, 1020,18.5, 1012,21, 1006,16.5, 1000,18, 996,20, 992,16, 987,12, 982,10.5, 975,11, 968,9.5, 960,12.5, 950,11.5, 940,13, 930,11.5, 920,14.5, 910,12, 900,13.5, 890,12.5, 880,15, 870,13, 860,15.5, 850,14, 840,16, 830,14.5, 820,16.5, 810,15, 800,17, 790,15.5, 780,17.5, 770,16, 760,18.5, 750,16.5, 740,18, 730,17, 720,19.5, 710,17.5, 700,20, 690,18, 680,20.5, 670,18, 660,21, 650,18.5, 640,22, 630,19, 620,21.5, 610,19, 600,21, 590,19, 580,20.5, 572,17, 566,15.5, 562,13, 558,14, 555,30, 553,48, 551,50.5, 549,28, 547,12, 544,10, 540,9.5, 530,11, 520,9.5, 510,11.5, 500,10, 490,11, 480,10.5, 470,12, 460,10.5, 450,11.5, 440,11, 430,12.5, 420,11, 410,12, 400,11.5, 390,12.5, 380,11.5, 370,13, 360,11.5, 350,12.5, 340,12, 331,13.8, 325,12, 320,10.5, 316,7.5, 313,6.2, 309,14, 306,33, 303,47, 301,49.5, 299,35, 297,12, 294,3.5, 290,1.5, 280,1.2, 265,1.4, 250,1, 235,1.3, 220,0.9, 205,1.3, 190,1, 175,1.4, 160,1, 145,1.3, 130,0.9, 115,1.3, 100,1, 85,1.4, 70,1, 55,1.2, 42,1.8, 36,1.2, 28,1, 22,0.6, 18,0.1];
const c2Orange = [1100,14, 1095,13, 1090,15.5, 1085,14, 1080,16, 1075,14.5, 1070,16.5, 1065,15, 1060,17, 1055,16, 1050,17.5, 1045,16, 1040,17, 1035,16.5, 1030,17.5, 1025,17, 1020,18, 1015,19, 1010,17, 1005,16, 1000,17, 996,19.5, 992,17, 988,13, 984,11, 980,10, 975,12, 970,10.5, 965,12, 960,11, 955,12.5, 950,11, 945,12.5, 940,11.5, 935,13, 930,11.5, 925,13, 920,12, 915,13.5, 910,12, 905,13.5, 900,12.5, 895,14, 890,12.5, 885,14, 880,13, 875,14.5, 870,13, 865,15, 860,13.5, 855,15, 850,14, 845,15.5, 840,14, 835,16, 830,14.5, 825,16, 820,15, 815,16.5, 810,15, 805,16.5, 800,15.5, 795,17, 790,15.5, 785,17, 780,16, 775,17.5, 770,16, 765,17.5, 760,16.5, 755,18, 750,16.5, 745,18, 740,17, 735,18.5, 730,17, 725,18.5, 720,17.5, 715,19, 710,17.5, 705,19, 700,18, 695,19.5, 690,18, 685,19.5, 680,18, 675,19, 670,17.5, 665,19.5, 660,18.5, 655,20, 650,18.5, 645,20, 640,18.5, 635,20, 630,19, 625,20.5, 620,18.5, 615,20, 610,19, 605,20.5, 600,18.5, 595,20, 590,18.5, 585,19.5, 580,18, 575,19, 570,17, 566,15, 562,13.5, 558,14, 555,25, 553,45, 551,50, 549,30, 547,14, 545,10, 540,9, 535,10.5, 530,9, 525,10.5, 520,9.5, 515,11, 510,9.5, 505,11, 500,10, 495,11, 490,9.5, 485,11, 480,10, 475,11.5, 470,10, 465,11, 460,10.5, 455,11.5, 450,10.5, 445,12, 440,10.5, 435,12, 430,11, 425,12, 420,11, 415,12.5, 410,11, 405,12, 400,11.5, 395,12.5, 390,11, 385,12.5, 380,11.5, 375,12.5, 370,11, 365,12.5, 360,11.5, 355,12, 350,11, 345,12.5, 340,11.5, 335,12.5, 330,13.5, 326,12, 322,11, 318,8, 315,6.5, 312,7, 308,15, 305,35, 302,48, 300,49, 298,30, 296,10, 293,3, 290,1.5, 285,1, 280,1.3, 270,0.9, 260,1.2, 250,0.8, 240,1.3, 230,0.9, 220,1.2, 210,0.8, 200,1.1, 190,0.9, 180,1.2, 170,0.8, 160,1.1, 150,0.9, 140,1.2, 130,0.8, 120,1.1, 110,0.9, 100,1.2, 90,0.8, 80,1.1, 70,0.9, 60,1.0, 50,1.2, 45,1.6, 40,1.4, 35,1, 30,0.8, 25,0.9, 20,0.4, 18,0];

type Pt = { x: number; y: number };
const toPts = (flat: number[]): Pt[] => {
  const out: Pt[] = [];
  for (let i = 0; i < flat.length; i += 2) out.push({ x: flat[i], y: flat[i + 1] });
  return out;
};

// x ticks: major every 200 eV (labelled on lower panels), minor every 100
function XTick(props: any) {
  const { x, y, payload, showLabel } = props;
  const v = payload.value;
  const major = v % 200 === 0;
  return (
    <g>
      <line x1={x} x2={x} y1={y} y2={y + (major ? 5 : 3)} stroke={AXIS} strokeWidth={1.3} />
      {showLabel && major && (
        <text transform={`translate(${x},${y + 19}) scale(1,1.08)`} textAnchor="middle" fontFamily={FONT} fontWeight="bold" fontSize={21.5} fill={INK}>
          {v}
        </text>
      )}
    </g>
  );
}

function YTick(props: any) {
  const { x, y, payload, step } = props;
  const v = payload.value;
  const major = Math.abs(v / step - Math.round(v / step)) < 1e-6;
  return (
    <g>
      <line x1={x - (major ? 4.5 : 2.5)} x2={x} y1={y} y2={y} stroke={AXIS} strokeWidth={1.3} />
      {major && (
        <text transform={`translate(${x - 5},${y + 7.8}) scale(1,1.08)`} textAnchor="end" fontFamily={FONT} fontWeight="bold" fontSize={21.5} fill={INK}>
          {v}
        </text>
      )}
    </g>
  );
}

type Series = { data: number[]; color: string };

type PanelProps = {
  top: number;
  marginTop: number;
  plotH: number;
  bottomH: number;
  yMax: number;
  yTicks: number[];
  yStep: number;
  series: Series[];
  showX: boolean;
  boxTop: boolean;
  labelY: number; // page y of the rotated axis title centre
  lineW: number;
};

function Panel(p: PanelProps) {
  const height = p.marginTop + p.plotH + p.bottomH;
  return (
    <div style={{ position: "absolute", left: 0, top: p.top, width: 616, height, overflow: "hidden" }}>
      <LineChart width={616} height={height} margin={{ top: p.marginTop, right: 8, bottom: 0, left: 0 }}>
        <XAxis
          type="number"
          dataKey="x"
          domain={[0, 1100]}
          reversed
          allowDataOverflow
          ticks={energyTicks}
          interval={0}
          height={p.bottomH}
          tickSize={0}
          tickMargin={0}
          tickLine={false}
          axisLine={{ stroke: AXIS, strokeWidth: 1.5 }}
          tick={(t: any) => <XTick {...t} showLabel={p.showX} />}
        />
        <YAxis
          type="number"
          domain={[0, p.yMax]}
          allowDataOverflow
          ticks={p.yTicks}
          interval={0}
          width={84}
          tickSize={0}
          tickMargin={0}
          tickLine={false}
          axisLine={{ stroke: AXIS, strokeWidth: 1.5 }}
          tick={(t: any) => <YTick {...t} step={p.yStep} />}
        />
        {p.series.map((s, i) => (
          <Line
            key={i}
            data={toPts(s.data)}
            dataKey="y"
            type="linear"
            stroke={s.color}
            strokeWidth={p.lineW}
            dot={false}
            activeDot={false}
            isAnimationActive={false}
          />
        ))}
        <ReferenceLine x={0} stroke={AXIS} strokeWidth={1.5} />
        {p.boxTop && <ReferenceLine y={p.yMax} stroke={AXIS} strokeWidth={1.5} />}
      </LineChart>
      <div
        style={{
          position: "absolute",
          left: 31,
          top: p.labelY - p.top,
          transform: "translate(-50%,-50%) rotate(-90deg) scaleX(1.12)",
          fontFamily: FONT,
          fontWeight: 700,
          fontSize: 21,
          lineHeight: 1,
          whiteSpace: "nowrap",
          color: INK,
        }}
      >
        Intensity (kcps)
      </div>
    </div>
  );
}

function Note({ x, y, size, children }: { x: number; y: number; size: number; children: React.ReactNode }) {
  return (
    <div
      style={{
        position: "absolute",
        left: x,
        top: y,
        transform: "translate(-50%,-50%) scaleY(1.08)",
        fontFamily: FONT,
        fontWeight: 700,
        fontSize: size,
        lineHeight: 0.78,
        whiteSpace: "nowrap",
        color: INK,
      }}
    >
      {children}
    </div>
  );
}

const sub = (d: string) => <span style={{ fontSize: "0.75em" }}>{d}</span>;

export default function App() {
  return (
    <div style={{ position: "absolute", left: 0, top: 0, width: 616, height: 1470, background: "#fff", overflow: "hidden" }}>
      {/* (a) */}
      <Panel top={11} marginTop={14} plotH={206} bottomH={12} yMax={100} yTicks={ticksA} yStep={20} showX={false} boxTop labelY={117} lineW={1.1}
        series={[
          { data: a1Black, color: "#333333" },
          { data: a1Red, color: "#e5322b" },
          { data: a1Blue, color: "#2c55d6" },
          { data: a1Green, color: "#3f8f47" },
          { data: a1Cyan, color: "#27b3c4" },
          { data: a1Orange, color: "#f2691e" },
        ]}
      />
      <Panel top={231} marginTop={0} plotH={207} bottomH={30} yMax={111} yTicks={ticksA} yStep={20} showX boxTop={false} labelY={326} lineW={1.4}
        series={[
          { data: a2Black, color: "#333333" },
          { data: a2Teal, color: "#2fae9c" },
          { data: a2Orange, color: "#f2691e" },
        ]}
      />
      {/* (b) */}
      <Panel top={498} marginTop={14} plotH={205} bottomH={12} yMax={16.1} yTicks={ticksB1} yStep={2} showX={false} boxTop labelY={596} lineW={1.5}
        series={[
          { data: b1Dark, color: "#3a3a3a" },
          { data: b1Purple, color: "#a46be0" },
          { data: b1Cyan, color: "#27b7c9" },
          { data: b1Olive, color: "#b3b030" },
          { data: b1Teal, color: "#1aa07f" },
          { data: b1Green, color: "#56b548" },
          { data: b1Orange, color: "#f3922b" },
          { data: b1Red, color: "#e6332a" },
          { data: b1Blue, color: "#1f5ff2" },
        ]}
      />
      <Panel top={717} marginTop={0} plotH={205} bottomH={30} yMax={179} yTicks={ticksB2} yStep={40} showX boxTop={false} labelY={798} lineW={1.4}
        series={[
          { data: b2Red, color: "#e6412f" },
          { data: b2Blue, color: "#3d7fd9" },
          { data: b2Green, color: "#6cbf45" },
        ]}
      />
      {/* (c) */}
      <Panel top={983} marginTop={14} plotH={206} bottomH={12} yMax={17} yTicks={ticksC1} yStep={2} showX={false} boxTop labelY={1096} lineW={1.4}
        series={[
          { data: c1Dark, color: "#474747" },
          { data: c1Blue, color: "#3d5fd4" },
          { data: c1Cyan, color: "#2ecad0" },
          { data: c1Purple, color: "#9d72d6" },
          { data: c1Olive, color: "#a9a33a" },
          { data: c1Orange, color: "#fb6a0c" },
        ]}
      />
      <Panel top={1203} marginTop={0} plotH={207} bottomH={30} yMax={58} yTicks={ticksC2} yStep={10} showX boxTop={false} labelY={1295} lineW={1.4}
        series={[
          { data: c2Dark, color: "#3c3c3c" },
          { data: c2Orange, color: "#ff8a17" },
        ]}
      />

      <Note x={30.5} y={25} size={27}>(a)</Note>
      <Note x={32.5} y={502} size={27}>(b)</Note>
      <Note x={32.5} y={996} size={27}>(c)</Note>

      <Note x={511} y={48.5} size={24}>α-Al{sub("2")}O{sub("3")}</Note>
      <Note x={504} y={77.5} size={24}>Without UV</Note>
      <Note x={514} y={258} size={24}>α-Al{sub("2")}O{sub("3")}</Note>
      <Note x={509} y={287} size={24}>With UV</Note>

      <Note x={512} y={540} size={24}>SiO{sub("2")} Glass</Note>
      <Note x={513} y={568} size={24}>Without UV</Note>
      <Note x={523} y={749} size={24}>SiO{sub("2")} Glass</Note>
      <Note x={517} y={782} size={24}>With UV</Note>

      <Note x={522} y={1025} size={24}>PET</Note>
      <Note x={525} y={1054} size={24}>Without UV</Note>
      <Note x={521} y={1233} size={24}>PET</Note>
      <Note x={522} y={1263} size={24}>With UV</Note>

      <Note x={346} y={485} size={22.5}>Binding Energy (eV)</Note>
      <Note x={346} y={965} size={22.5}>Binding Energy (eV)</Note>
      <Note x={346} y={1452} size={22.5}>Binding Energy (eV)</Note>
    </div>
  );
}
